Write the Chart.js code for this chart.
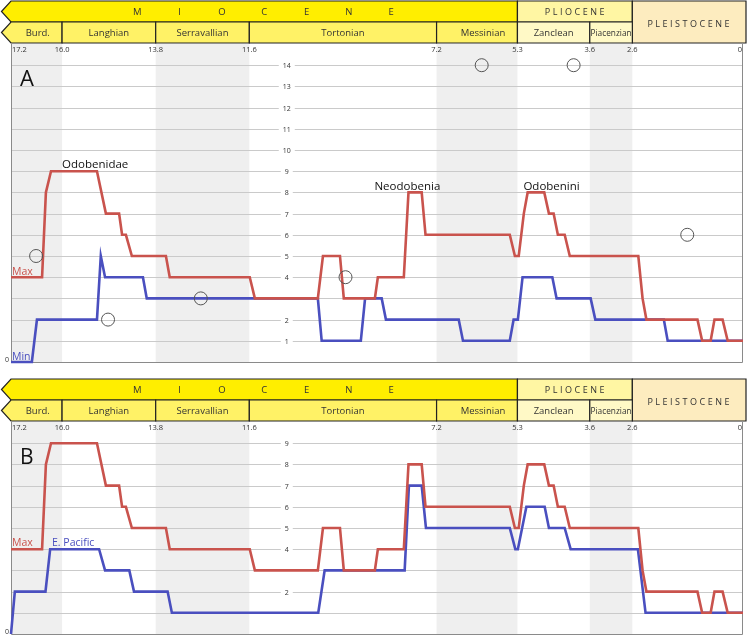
<!DOCTYPE html>
<html>
<head>
<meta charset="utf-8">
<script src="https://cdn.jsdelivr.net/npm/chart.js@4.4.0/dist/chart.umd.min.js"></script>
<style>
  body { margin: 0; background: #fff; }
  #wrapA { position: absolute; left: 0; top: 0; width: 747px; height: 370px; }
  #wrapB { position: absolute; left: 0; top: 378px; width: 747px; height: 259px; }
</style>
</head>
<body>
<div id="wrapA"><canvas id="chartA"></canvas></div>
<div id="wrapB"><canvas id="chartB"></canvas></div>
<script>
// ---- data (ages in Ma, counts) ----
const maxAges = [17.2, 16.47, 16.38, 16.26, 15.18, 14.97, 14.66, 14.59, 14.50, 14.36,
                 13.56, 13.47, 11.59, 11.47, 9.99, 9.87, 9.47, 9.38, 8.65, 8.58,
                 7.97, 7.86, 7.55, 7.46, 5.48, 5.36, 5.27, 5.15, 5.06, 4.67,
                 4.56, 4.45, 4.35, 4.19, 4.07, 2.46, 2.36, 2.27, 1.07, 0.96,
                 0.76, 0.67, 0.48, 0.36, 0];
const maxVals = [4, 4, 8, 9, 9, 7, 7, 6, 6, 5,
                 5, 4, 4, 3, 3, 5, 5, 3, 3, 4,
                 4, 8, 8, 6, 6, 5, 5, 7, 8, 8,
                 7, 7, 6, 6, 5, 5, 3, 2, 2, 1,
                 1, 2, 2, 1, 1];

const minAges = [17.2, 16.71, 16.59, 15.18, 15.09, 14.99, 14.10, 14.01, 9.99, 9.90,
                 8.98, 8.88, 8.49, 8.39, 6.68, 6.58, 5.48, 5.39, 5.29, 5.18,
                 4.48, 4.38, 3.58, 3.47, 1.86, 1.77, 0];
const minVals = [0, 0, 2, 2, 5, 4, 4, 3, 3, 1,
                 1, 3, 3, 2, 2, 1, 1, 2, 2, 4,
                 4, 3, 3, 2, 2, 1, 1];

const pacAges = [17.2, 17.11, 16.39, 16.28, 15.13, 14.99, 14.42, 14.31, 13.52, 13.42,
                 9.98, 9.83, 7.95, 7.85, 7.55, 7.45, 5.48, 5.35, 5.29, 5.09,
                 4.66, 4.56, 4.19, 4.05, 2.47, 2.29, 0];
const pacVals = [0, 2, 2, 4, 4, 3, 3, 2, 2, 1,
                 1, 3, 3, 7, 7, 5, 5, 4, 4, 6,
                 6, 5, 5, 4, 4, 1, 1];

// single records (open circles, panel A)
const recAges = [16.61, 14.92, 12.74, 9.34, 6.14, 3.98, 1.31];
const recVals = [5, 2, 3, 4, 14, 14, 6];

// time scale
const stageNames = ['Burd.', 'Langhian', 'Serravallian', 'Tortonian', 'Messinian', 'Zanclean', 'Piacenzian'];
const stageEdges = [17.2, 16.0, 13.8, 11.6, 7.2, 5.3, 3.6, 2.6];
const ageTicks = ['17.2', '16.0', '13.8', '11.6', '7.2', '5.3', '3.6', '2.6', '0'];
const greyBands = [[17.2, 16.0], [13.8, 11.6], [7.2, 5.3], [3.6, 2.6]];
const yTicksA = [1, 2, 4, 5, 6, 7, 8, 9, 10, 11, 12, 13, 14];
const yTicksB = [2, 4, 5, 6, 7, 8, 9];

const RED = '#c9534d';
const BLUE = '#4a4fbf';
const FONT = '"Open Sans", "Noto Sans", sans-serif';
const LABEL_AGE = 10.72; // where the count labels sit

const pairs = (xs, ys) => xs.map((x, i) => ({ x: x, y: ys[i] }));

// bands, grid, count labels, age labels, frame
const backdrop = {
  id: 'backdrop',
  beforeDatasetsDraw(chart, args, opts) {
    const { ctx, chartArea: a, scales: { x, y } } = chart;
    ctx.save();
    ctx.fillStyle = '#efefef';
    greyBands.forEach(([from, to]) => {
      const x1 = x.getPixelForValue(from), x2 = x.getPixelForValue(to);
      ctx.fillRect(x1, a.top, x2 - x1, a.bottom - a.top);
    });

    const lx = x.getPixelForValue(LABEL_AGE);
    ctx.font = '7px ' + FONT;
    ctx.textAlign = 'center';
    ctx.textBaseline = 'middle';
    ctx.lineWidth = 1;
    for (let v = 1; v <= opts.gridMax; v++) {
      const py = Math.round(y.getPixelForValue(v)) + 0.5;
      ctx.strokeStyle = '#cacaca';
      ctx.beginPath();
      if (opts.ticks.includes(v)) {
        const hw = ctx.measureText(String(v)).width / 2 + 4;
        ctx.moveTo(a.left, py); ctx.lineTo(lx - hw, py);
        ctx.moveTo(lx + hw, py); ctx.lineTo(a.right, py);
        ctx.stroke();
        ctx.fillStyle = '#333';
        ctx.fillText(String(v), lx, py);
      } else {
        ctx.moveTo(a.left, py); ctx.lineTo(a.right, py);
        ctx.stroke();
      }
    }

    // frame
    ctx.strokeStyle = '#8a8a8a';
    ctx.beginPath();
    ctx.moveTo(a.left + 0.5, a.top); ctx.lineTo(a.left + 0.5, a.bottom + 0.5);
    ctx.lineTo(a.right - 0.5, a.bottom + 0.5); ctx.lineTo(a.right - 0.5, a.top);
    ctx.stroke();

    ctx.fillStyle = '#333';
    ctx.textAlign = 'right';
    ctx.fillText('0', a.left - 2, a.bottom - 2);

    // age labels
    ctx.font = '7.5px ' + FONT;
    ageTicks.forEach((t, i) => {
      const px = x.getPixelForValue(parseFloat(t));
      ctx.textAlign = i === 0 ? 'left' : (i === ageTicks.length - 1 ? 'right' : 'center');
      ctx.fillText(t, px + (i === 0 ? 1 : (i === ageTicks.length - 1 ? -1 : 0)), a.top + 6);
    });
    ctx.restore();
  }
};

// chronostratigraphic header
const header = {
  id: 'header',
  afterDraw(chart) {
    const { ctx, chartArea: a, scales: { x } } = chart;
    const X = v => x.getPixelForValue(v);
    const r1 = 1, r2 = 22, r3 = a.top - 1;
    const tip = 1.5, L = a.left;
    ctx.save();
    ctx.lineWidth = 1.2;
    ctx.strokeStyle = '#222';

    const cell = (pts, fill) => {
      ctx.beginPath();
      pts.forEach((p, i) => i ? ctx.lineTo(p[0], p[1]) : ctx.moveTo(p[0], p[1]));
      ctx.closePath();
      ctx.fillStyle = fill;
      ctx.fill();
      ctx.stroke();
    };
    // epochs
    cell([[tip, (r1 + r2) / 2], [L, r1], [X(5.3), r1], [X(5.3), r2], [L, r2]], '#ffee00');
    cell([[X(5.3), r1], [X(2.6), r1], [X(2.6), r2], [X(5.3), r2]], '#fff6a3');
    cell([[X(2.6), r1], [a.right + 3, r1], [a.right + 3, r3], [X(2.6), r3]], '#fdecbf');
    // stages
    const stageFill = ['#fff266', '#fff266', '#fff266', '#fff266', '#fff266', '#fff9c6', '#fff9c6'];
    stageNames.forEach((n, i) => {
      const x1 = X(stageEdges[i]), x2 = X(stageEdges[i + 1]);
      if (i === 0) cell([[tip, (r2 + r3) / 2], [L, r2], [x2, r2], [x2, r3], [L, r3]], stageFill[i]);
      else cell([[x1, r2], [x2, r2], [x2, r3], [x1, r3]], stageFill[i]);
    });

    ctx.fillStyle = '#333';
    ctx.textBaseline = 'middle';
    ctx.textAlign = 'center';
    // MIOCENE spread out
    ctx.font = '9.5px ' + FONT;
    const mc = (L + X(5.3)) / 2;
    'MIOCENE'.split('').forEach((ch, i) => ctx.fillText(ch, mc + (i - 3) * 42.3, (r1 + r2) / 2 + 0.5));
    ctx.font = '9px ' + FONT;
    ctx.letterSpacing = '2.5px';
    ctx.fillText('PLIOCENE', (X(5.3) + X(2.6)) / 2 + 1, (r1 + r2) / 2 + 0.5);
    ctx.fillText('PLEISTOCENE', (X(2.6) + a.right) / 2 + 2, (r1 + r3) / 2 + 2);
    ctx.letterSpacing = '0px';
    stageNames.forEach((n, i) => {
      let cx = (X(stageEdges[i]) + X(stageEdges[i + 1])) / 2;
      if (i === 0) cx = (tip + X(stageEdges[1])) / 2 + 6;
      if (n === 'Messinian') cx += 6;
      ctx.font = (n === 'Piacenzian' ? '8.3px ' : '9.5px ') + FONT;
      ctx.fillText(n, cx, (r2 + r3) / 2 + 1);
    });
    ctx.restore();
  }
};

// text labels on the plot
const notes = {
  id: 'notes',
  afterDatasetsDraw(chart, args, opts) {
    const { ctx, scales: { x, y } } = chart;
    ctx.save();
    ctx.textBaseline = 'alphabetic';
    opts.items.forEach(n => {
      ctx.font = n.font + ' ' + FONT;
      ctx.fillStyle = n.color;
      ctx.textAlign = n.align || 'left';
      const px = n.px !== undefined ? n.px : x.getPixelForValue(n.age);
      ctx.fillText(n.text, px, y.getPixelForValue(n.val) + n.dy);
    });
    ctx.restore();
  }
};

function lineSet(label, data, color) {
  return { label: label, data: data, borderColor: color, borderWidth: 2.6, pointRadius: 0,
           tension: 0, fill: false, clip: false, borderJoinStyle: 'miter' };
}

function baseOptions(yMax, padBottom, backOpts, noteItems) {
  return {
    responsive: true,
    maintainAspectRatio: false,
    animation: false,
    events: [],
    layout: { autoPadding: false, padding: { top: 44, left: 11, right: 4, bottom: padBottom } },
    scales: {
      x: { type: 'linear', reverse: true, min: 0, max: 17.2, display: false },
      y: { type: 'linear', min: 0, max: yMax, display: false }
    },
    plugins: {
      legend: { display: false },
      tooltip: { enabled: false },
      backdrop: backOpts,
      notes: { items: noteItems }
    }
  };
}

new Chart(document.getElementById('chartA'), {
  type: 'line',
  data: {
    datasets: [
      { type: 'scatter', label: 'single records', data: pairs(recAges, recVals), pointRadius: 6.5,
        pointBorderColor: '#555', pointBackgroundColor: 'rgba(0,0,0,0)', pointBorderWidth: 1, clip: false },
      lineSet('Max', pairs(maxAges, maxVals), RED),
      lineSet('Min', pairs(minAges, minVals), BLUE)
    ]
  },
  options: baseOptions(15, 8, { gridMax: 14, ticks: yTicksA }, [
    { text: 'A', px: 20, val: 14, dy: 21, font: '22px', color: '#111' },
    { text: 'Odobenidae', age: 16.0, val: 9, dy: -3, font: '11.5px', color: '#111' },
    { text: 'Neodobenia', age: 8.66, val: 8, dy: -2, font: '11.5px', color: '#111' },
    { text: 'Odobenini', age: 5.16, val: 8, dy: -2, font: '11.5px', color: '#111' },
    { text: 'Max', px: 12, val: 4, dy: -2, font: '10.5px', color: RED },
    { text: 'Min', px: 12, val: 0, dy: -2, font: '10.5px', color: BLUE }
  ]),
  plugins: [backdrop, header, notes]
});

new Chart(document.getElementById('chartB'), {
  type: 'line',
  data: {
    datasets: [
      lineSet('Max', pairs(maxAges, maxVals), RED),
      lineSet('E. Pacific', pairs(pacAges, pacVals), BLUE)
    ]
  },
  options: baseOptions(10, 3, { gridMax: 9, ticks: yTicksB }, [
    { text: 'B', px: 20, val: 9, dy: 21, font: '21px', color: '#111' },
    { text: 'Max', px: 12, val: 4, dy: -3, font: '10.5px', color: RED },
    { text: 'E. Pacific', px: 52, val: 4, dy: -3, font: '10.5px', color: BLUE }
  ]),
  plugins: [backdrop, header, notes]
});
</script>
</body>
</html>
